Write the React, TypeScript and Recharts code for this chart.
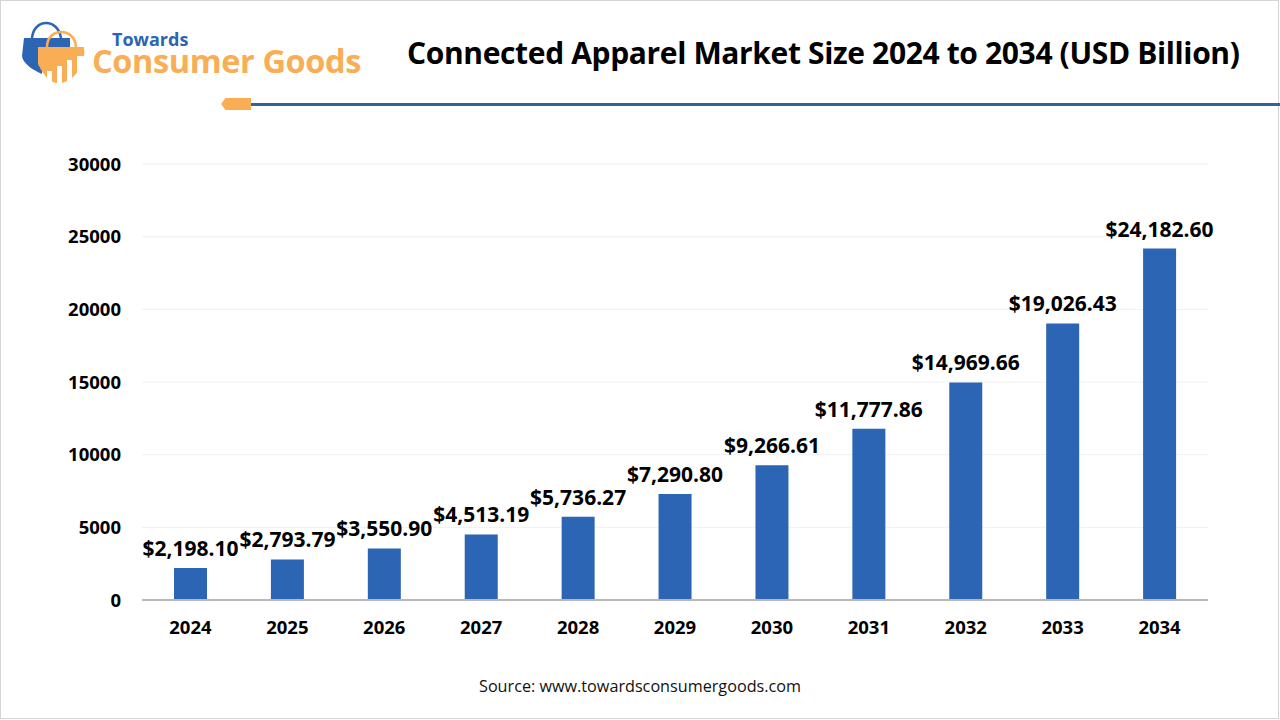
import { BarChart, Bar, XAxis, YAxis, CartesianGrid, LabelList } from 'recharts'

const years = ['2024', '2025', '2026', '2027', '2028', '2029', '2030', '2031', '2032', '2033', '2034']
const marketSize = [2198.1, 2793.79, 3550.9, 4513.19, 5736.27, 7290.8, 9266.61, 11777.86, 14969.66, 19026.43, 24182.6]
const yTicks = [0, 5000, 10000, 15000, 20000, 25000, 30000]

const data = years.map((year, i) => ({ year, value: marketSize[i] }))

const FONT = '"Open Sans", "Noto Sans", sans-serif'
const BLUE = '#2b65b3'
const ORANGE = '#f9ae55'

const fmt = (v: number) =>
  '$' + v.toLocaleString('en-US', { minimumFractionDigits: 2, maximumFractionDigits: 2 })

// drawn in page coordinates, the svg sits at 0,0
function Logo() {
  return (
    <svg width={100} height={100} style={{ position: 'absolute', left: 0, top: 0 }}>
      <path d="M32 38 C34 18 58 18 61 38" fill="none" stroke={BLUE} strokeWidth={2.5} />
      <path d="M24 38 H70 V60 H42 V74 C32 70 22 62 22 56 Z" fill={BLUE} />
      <path d="M47 47 C47 27 75 27 76 47" fill="none" stroke={ORANGE} strokeWidth={2.5} />
      <path d="M38 47 H84 C86 62 78 78 62 83 C52 84 46 80 38 64 Z" fill={ORANGE} />
      <rect x={47} y={71} width={5} height={14} fill="#fff" />
      <rect x={57} y={66} width={5} height={19} fill="#fff" />
      <rect x={67} y={60} width={5} height={25} fill="#fff" />
      <rect x={77} y={56} width={9} height={29} fill="#fff" />
    </svg>
  )
}

export default function App() {
  return (
    <div style={{ position: 'absolute', left: 0, top: 0, width: 1280, height: 720, background: '#fff', fontFamily: FONT, overflow: 'hidden' }}>
      <div style={{ position: 'absolute', left: 0, top: 0, width: 1277, height: 717, border: '1px solid #d4d4d4' }} />
      <Logo />
      <div style={{ position: 'absolute', left: 112, top: 32, fontSize: 18, fontWeight: 700, color: BLUE, lineHeight: '15px' }}>Towards</div>
      <div style={{ position: 'absolute', left: 92, top: 47, fontSize: 32.5, fontWeight: 700, color: ORANGE, lineHeight: '28px', letterSpacing: -0.4, whiteSpace: 'nowrap' }}>Consumer Goods</div>
      <div style={{ position: 'absolute', left: 407, top: 33, fontSize: 30, fontWeight: 700, color: '#000', lineHeight: '40px', whiteSpace: 'nowrap', letterSpacing: -0.36 }}>
        Connected Apparel Market Size 2024 to 2034 (USD Billion)
      </div>
      <div style={{ position: 'absolute', left: 251, top: 103, width: 1029, height: 3, background: '#2f62a0' }} />
      <div style={{ position: 'absolute', left: 221, top: 98, width: 30, height: 12, background: ORANGE, clipPath: 'polygon(15% 0, 100% 0, 100% 100%, 15% 100%, 0 50%)' }} />
      <div style={{ position: 'absolute', left: 0, top: 0 }}>
        <BarChart
          width={1280}
          height={720}
          data={data}
          margin={{ top: 164, right: 72, bottom: 90, left: 72 }}
        >
          <CartesianGrid vertical={false} stroke="#f0f0f0" />
          <XAxis
            dataKey="year"
            axisLine={{ stroke: '#b8b8b8', strokeWidth: 2 }}
            tickLine={false}
            tick={{ fill: '#000', fontSize: 18.5, fontWeight: 700, fontFamily: FONT }}
            tickMargin={15}
            interval={0}
          />
          <YAxis
            width={70}
            domain={[0, 30000]}
            ticks={yTicks}
            axisLine={false}
            tickLine={false}
            tick={{ fill: '#000', fontSize: 18.5, fontWeight: 700, fontFamily: FONT }}
            tickMargin={15}
            interval={0}
          />
          <Bar dataKey="value" fill={BLUE} barSize={33} isAnimationActive={false}>
            <LabelList
              dataKey="value"
              position="top"
              offset={12}
              formatter={fmt}
              style={{ fill: '#000', fontSize: 21, fontWeight: 700, fontFamily: FONT }}
            />
          </Bar>
        </BarChart>
      </div>
      <div style={{ position: 'absolute', left: 0, top: 675, width: 1280, textAlign: 'center', fontSize: 16.2, color: '#111', lineHeight: '22px' }}>
        Source: www.towardsconsumergoods.com
      </div>
    </div>
  )
}
